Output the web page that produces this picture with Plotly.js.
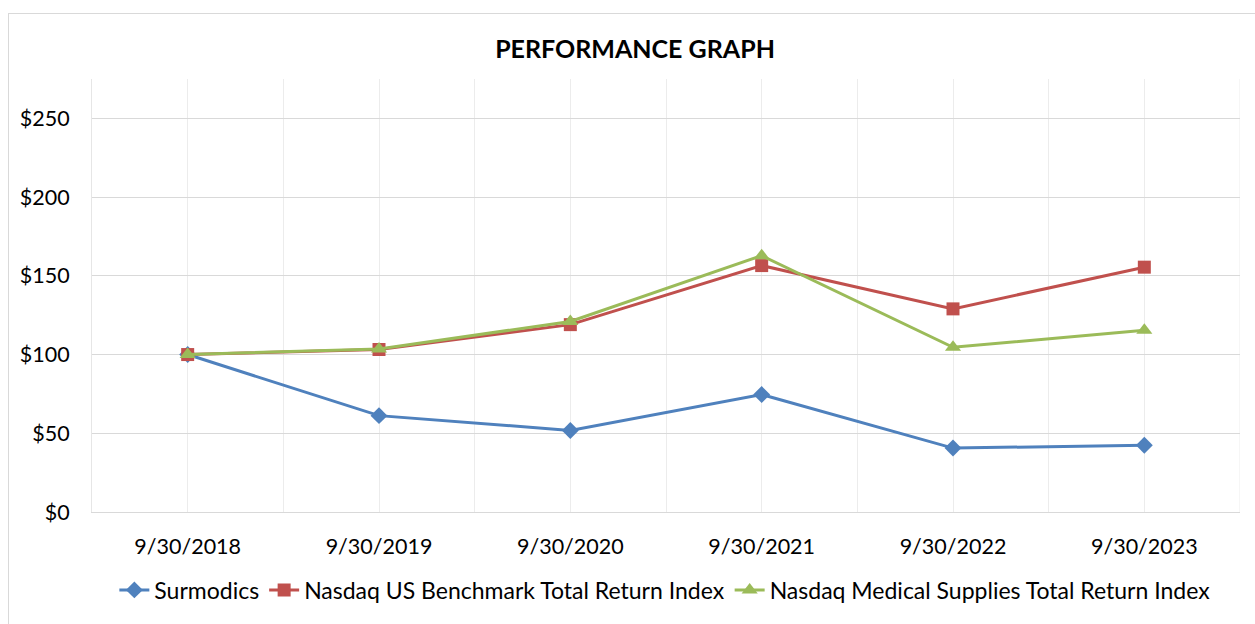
<!DOCTYPE html>
<html>
<head>
<meta charset="utf-8">
<script src="https://cdn.plot.ly/plotly-3.0.1.min.js"></script>
<style>
  html, body { margin: 0; padding: 0; background: #fff; }
  #wrap { position: relative; width: 1255px; height: 624px; overflow: hidden; }
  #chart { width: 1255px; height: 624px; }
  #frame { position: absolute; left: 8px; top: 13px; width: 1260px; height: 640px;
           border: 1px solid #d9d9d9; box-sizing: border-box; pointer-events: none; }
</style>
</head>
<body>
<div id="wrap">
  <div id="chart"></div>
  <div id="frame"></div>
</div>
<script>
// Data
const categories = ["9/30/2018", "9/30/2019", "9/30/2020", "9/30/2021", "9/30/2022", "9/30/2023"];
const surmodics = [100, 61.2, 51.8, 74.6, 40.6, 42.4];
const nasdaqBenchmark = [100, 103.2, 119, 156.5, 129, 155.5];
const nasdaqMedical = [100, 103.6, 121, 162.8, 104.6, 115.4];
const yTickVals = [0, 50, 100, 150, 200, 250];
const yTickText = ["$0", "$50", "$100", "$150", "$200", "$250"];

const xIdx = categories.map((c, i) => i);
const FONT = "Lato, 'Open Sans', sans-serif";

const traces = [
  { x: xIdx, y: surmodics, name: "Surmodics", type: "scatter", mode: "lines+markers",
    line: { color: "#4F81BD", width: 3 },
    marker: { symbol: "diamond", size: 13, color: "#4F81BD" } },
  { x: xIdx, y: nasdaqBenchmark, name: "Nasdaq US Benchmark Total Return Index", type: "scatter", mode: "lines+markers",
    line: { color: "#C0504D", width: 3 },
    marker: { symbol: "square", size: 13, color: "#C0504D" } },
  { x: xIdx, y: nasdaqMedical, name: "Nasdaq Medical Supplies Total Return Index", type: "scatter", mode: "lines+markers",
    line: { color: "#9BBB59", width: 3 },
    marker: { symbol: "triangle-up", size: 14, color: "#9BBB59" } }
];

const layout = {
  width: 1255, height: 624,
  margin: { l: 92, r: 15, t: 79, b: 112 },
  paper_bgcolor: "#ffffff", plot_bgcolor: "#ffffff",
  font: { family: FONT, color: "#000000", size: 21 },
  title: { text: "<b>PERFORMANCE GRAPH</b>", x: 0.506, xanchor: "center", y: 0.9215, yanchor: "middle",
           font: { family: FONT, size: 25, color: "#000000" } },
  xaxis: {
    range: [-0.5, 5.5], tickmode: "array", tickvals: xIdx, ticktext: categories,
    showgrid: true, gridcolor: "#ececec", gridwidth: 1,
    minor: { tickmode: "linear", tick0: 0.5, dtick: 1, showgrid: true, gridcolor: "#ececec", gridwidth: 1 },
    showline: true, linecolor: "#d9d9d9", linewidth: 1, mirror: false,
    ticks: "", ticklabelstandoff: 15, zeroline: false, fixedrange: true,
    tickfont: { family: FONT, size: 21.5, color: "#000000" }
  },
  yaxis: {
    range: [0, 275], tickmode: "array", tickvals: yTickVals, ticktext: yTickText,
    showgrid: true, gridcolor: "#d9d9d9", gridwidth: 1, zeroline: false,
    showline: true, linecolor: "#e6e6e6", linewidth: 1,
    ticks: "", ticklabelstandoff: 17, fixedrange: true,
    tickfont: { family: FONT, size: 21.5, color: "#000000" }
  },
  shapes: [
    { type: "line", xref: "x", yref: "paper", x0: 5.5, x1: 5.5, y0: 0, y1: 1,
      line: { color: "#ececec", width: 1 }, layer: "below" }
  ],
  showlegend: true,
  legend: { orientation: "h", x: 0.499, xanchor: "center", y: -0.18, yanchor: "middle",
            font: { family: FONT, size: 23, color: "#000000" },
            itemwidth: 30, tracegroupgap: 0, bgcolor: "rgba(0,0,0,0)" }
};

Plotly.newPlot("chart", traces, layout, { displayModeBar: false, staticPlot: true });
</script>
</body>
</html>
